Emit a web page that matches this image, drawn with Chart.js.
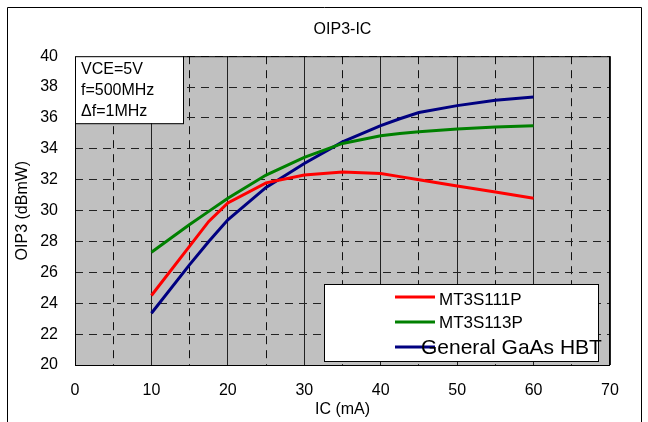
<!DOCTYPE html>
<html>
<head>
<meta charset="utf-8">
<script src="https://cdn.jsdelivr.net/npm/chart.js@4/dist/chart.umd.min.js"></script>
<style>
html,body{margin:0;padding:0;background:#fff;}
#wrap{width:648px;height:422px;position:relative;}
</style>
</head>
<body>
<div id="wrap"><canvas id="c" width="648" height="422"></canvas></div>
<script>
// ---- data ----
const icValues = [10, 15, 17.5, 20, 25, 30, 35, 40, 42.5, 45, 50, 55, 60];
const mt3s111p = [24.5, 27.7, 29.3, 30.5, 31.8, 32.3, 32.5, 32.4, 32.2, 32.0, 31.6, 31.2, 30.8];
const mt3s113p = [27.3, 29.1, 29.95, 30.8, 32.3, 33.45, 34.35, 34.85, 35.0, 35.1, 35.28, 35.42, 35.5];
const gaasHbt  = [23.35, 26.5, 28.0, 29.4, 31.5, 33.05, 34.45, 35.5, 35.95, 36.35, 36.8, 37.15, 37.35];
const seriesNames = ['MT3S111P', 'MT3S113P', 'General GaAs HBT'];
const xTicks = [0, 10, 20, 30, 40, 50, 60, 70];
const yTicks = [20, 22, 24, 26, 28, 30, 32, 34, 36, 38, 40];
const noteLines = ['VCE=5V', 'f=500MHz', '\u0394f=1MHz'];
const chartTitle = 'OIP3-IC';
const xTitle = 'IC (mA)';
const yTitle = 'OIP3 (dBmW)';

const FONT = "'Liberation Sans', Arial, sans-serif";
const toPts = ys => icValues.map((x, i) => ({x: x, y: ys[i]}));

const bgPlugin = {
  id: 'bg',
  beforeDraw(chart) {
    const {ctx, chartArea: a} = chart;
    ctx.save();
    ctx.fillStyle = '#c0c0c0';
    ctx.fillRect(a.left, a.top, a.right - a.left, a.bottom - a.top);
    ctx.restore();
  },
  afterDraw(chart) {
    const {ctx, chartArea: a} = chart;
    ctx.save();
    // plot border
    ctx.strokeStyle = '#000';
    ctx.lineWidth = 1;
    ctx.strokeRect(a.left + 0.5, a.top + 0.5, a.right - a.left - 1, a.bottom - a.top);
    // outer frame
    ctx.beginPath();
    ctx.moveTo(7.5, 422); ctx.lineTo(7.5, 7.5); ctx.lineTo(641.5, 7.5); ctx.lineTo(641.5, 422);
    ctx.stroke();
    // note box
    const bx = a.left, by = a.top, bw = 108, bh = 67;
    ctx.fillStyle = '#fff';
    ctx.fillRect(bx, by, bw, bh);
    ctx.strokeRect(bx + 0.5, by + 0.5, bw, bh);
    ctx.fillStyle = '#000';
    ctx.font = '16px ' + FONT;
    ctx.textBaseline = 'middle';
    ctx.textAlign = 'left';
    noteLines.forEach((t, i) => ctx.fillText(t, bx + 6, by + 13 + i * 21));
    // legend box
    const lx = 324, ly = 284, lw = 274, lh = 77;
    ctx.fillStyle = '#fff';
    ctx.fillRect(lx, ly, lw, lh);
    ctx.strokeRect(lx + 0.5, ly + 0.5, lw, lh);
    const rows = [297, 322, 347];
    chart.data.datasets.forEach((ds, i) => {
      ctx.strokeStyle = ds.borderColor;
      ctx.lineWidth = 3;
      ctx.beginPath();
      ctx.moveTo(395, rows[i]); ctx.lineTo(435, rows[i]);
      ctx.stroke();
    });
    ctx.fillStyle = '#000';
    ctx.textBaseline = 'middle';
    ctx.font = '17px ' + FONT;
    ctx.fillText(chart.data.datasets[0].label, 439, 300);
    ctx.fillText(chart.data.datasets[1].label, 439, 323);
    ctx.font = '21px ' + FONT;
    ctx.fillText(chart.data.datasets[2].label, 421, 348);
    ctx.restore();
  }
};

new Chart(document.getElementById('c'), {
  type: 'scatter',
  data: {
    datasets: [
      {label: seriesNames[0], data: toPts(mt3s111p), borderColor: '#ff0000', backgroundColor: '#ff0000'},
      {label: seriesNames[1], data: toPts(mt3s113p), borderColor: '#008000', backgroundColor: '#008000'},
      {label: seriesNames[2], data: toPts(gaasHbt), borderColor: '#000080', backgroundColor: '#000080'}
    ].map(d => Object.assign(d, {showLine: true, borderWidth: 3, pointRadius: 0, pointHoverRadius: 0, tension: 0}))
  },
  options: {
    responsive: false,
    animation: false,
    events: [],
    layout: {padding: {left: 0, right: 38, top: 0, bottom: 0}},
    plugins: {
      legend: {display: false},
      tooltip: {enabled: false},
      title: {
        display: true, text: chartTitle, fullSize: false, color: '#000',
        font: {family: FONT, size: 16, weight: 'normal', lineHeight: 1.2},
        padding: {top: 20, bottom: 17}
      }
    },
    scales: {
      x: {
        type: 'linear', min: 0, max: 70,
        afterFit(s) { s.height = 57; },
        afterBuildTicks(s) {
          const t = [];
          for (let v = 0; v <= 70; v += 5) t.push({value: v});
          s.ticks = t;
        },
        ticks: {
          color: '#000', padding: 16, maxRotation: 0, autoSkip: false,
          font: {family: FONT, size: 16},
          callback: v => xTicks.includes(v) ? String(v) : ''
        },
        grid: {
          drawTicks: false, lineWidth: 1,
          color: ctx => (ctx.tick && ctx.tick.value % 10 === 0) ? '#222' : '#111'
        },
        border: {display: false, dash: ctx => (ctx.tick && ctx.tick.value % 10 === 0) ? [] : [8, 6]},
        title: {display: true, text: xTitle, color: '#000', font: {family: FONT, size: 16}, padding: {top: 0, bottom: 3}}
      },
      y: {
        type: 'linear', min: 20, max: 40,
        afterFit(s) { s.width = 75; },
        afterBuildTicks(s) { s.ticks = yTicks.map(v => ({value: v})); },
        ticks: {color: '#000', padding: 17, font: {family: FONT, size: 16}},
        grid: {drawTicks: false, lineWidth: 1, color: '#222'},
        border: {display: false, dash: [8, 6]},
        title: {display: true, text: yTitle, color: '#000', font: {family: FONT, size: 16}, padding: {top: 13, bottom: 0}}
      }
    }
  },
  plugins: [bgPlugin]
});
</script>
</body>
</html>
